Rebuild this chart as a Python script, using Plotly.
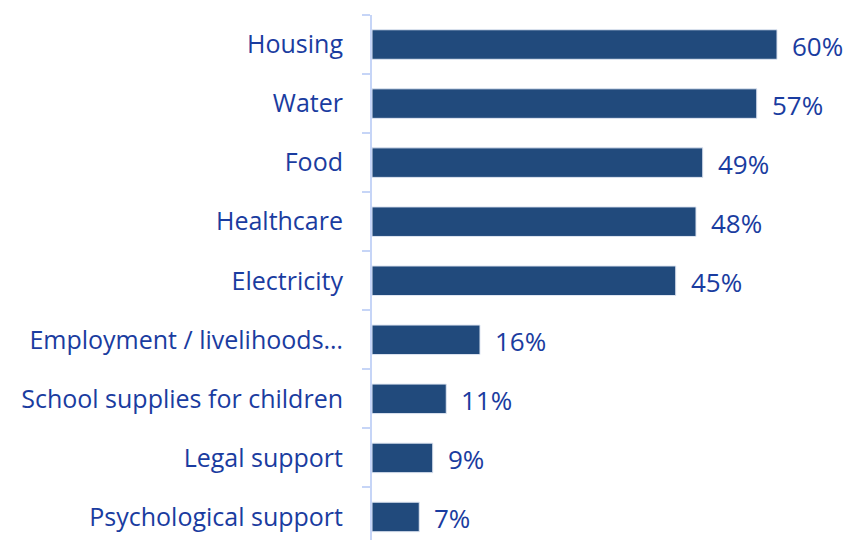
import plotly.graph_objects as go

# Share of respondents citing each need
categories = [
    "Housing",
    "Water",
    "Food",
    "Healthcare",
    "Electricity",
    "Employment / livelihoods…",
    "School supplies for children",
    "Legal support",
    "Psychological support",
]
values = [60, 57, 49, 48, 45, 16, 11, 9, 7]
value_labels = [f"{v}%" for v in values]

BAR_COLOR = "#214a7c"
TEXT_COLOR = "#1a3ca0"
AXIS_COLOR = "#c6d5f7"
FONT = "Open Sans, Noto Sans, sans-serif"

fig = go.Figure(
    go.Bar(
        x=values,
        y=categories,
        orientation="h",
        width=0.5,
        marker=dict(color=BAR_COLOR, line=dict(color="#dfe6f2", width=1)),
        hoverinfo="skip",
    )
)

# Value labels just past the end of each bar
for cat, v, lab in zip(categories, values, value_labels):
    fig.add_annotation(
        x=v, y=cat, xref="x", yref="y",
        text=lab, showarrow=False,
        xanchor="left", yanchor="middle",
        xshift=13, yshift=-1,
        font=dict(family=FONT, size=26, color=TEXT_COLOR),
    )

fig.update_layout(
    width=851,
    height=540,
    margin=dict(l=372, r=0, t=15, b=0),
    paper_bgcolor="white",
    plot_bgcolor="rgba(0,0,0,0)",
    showlegend=False,
    bargap=0.5,
)

fig.update_xaxes(
    range=[0, 70.96],
    visible=False,
    fixedrange=True,
)

fig.update_yaxes(
    type="category",
    categoryorder="array",
    categoryarray=categories,
    range=[8.39, -0.5],
    showline=True,
    linecolor=AXIS_COLOR,
    linewidth=2,
    showgrid=False,
    zeroline=False,
    ticks="outside",
    tickson="boundaries",
    ticklen=8,
    tickwidth=2,
    tickcolor=AXIS_COLOR,
    ticklabelstandoff=22,
    tickfont=dict(family=FONT, size=25, color=TEXT_COLOR),
    fixedrange=True,
)

fig.write_html("out.html")
